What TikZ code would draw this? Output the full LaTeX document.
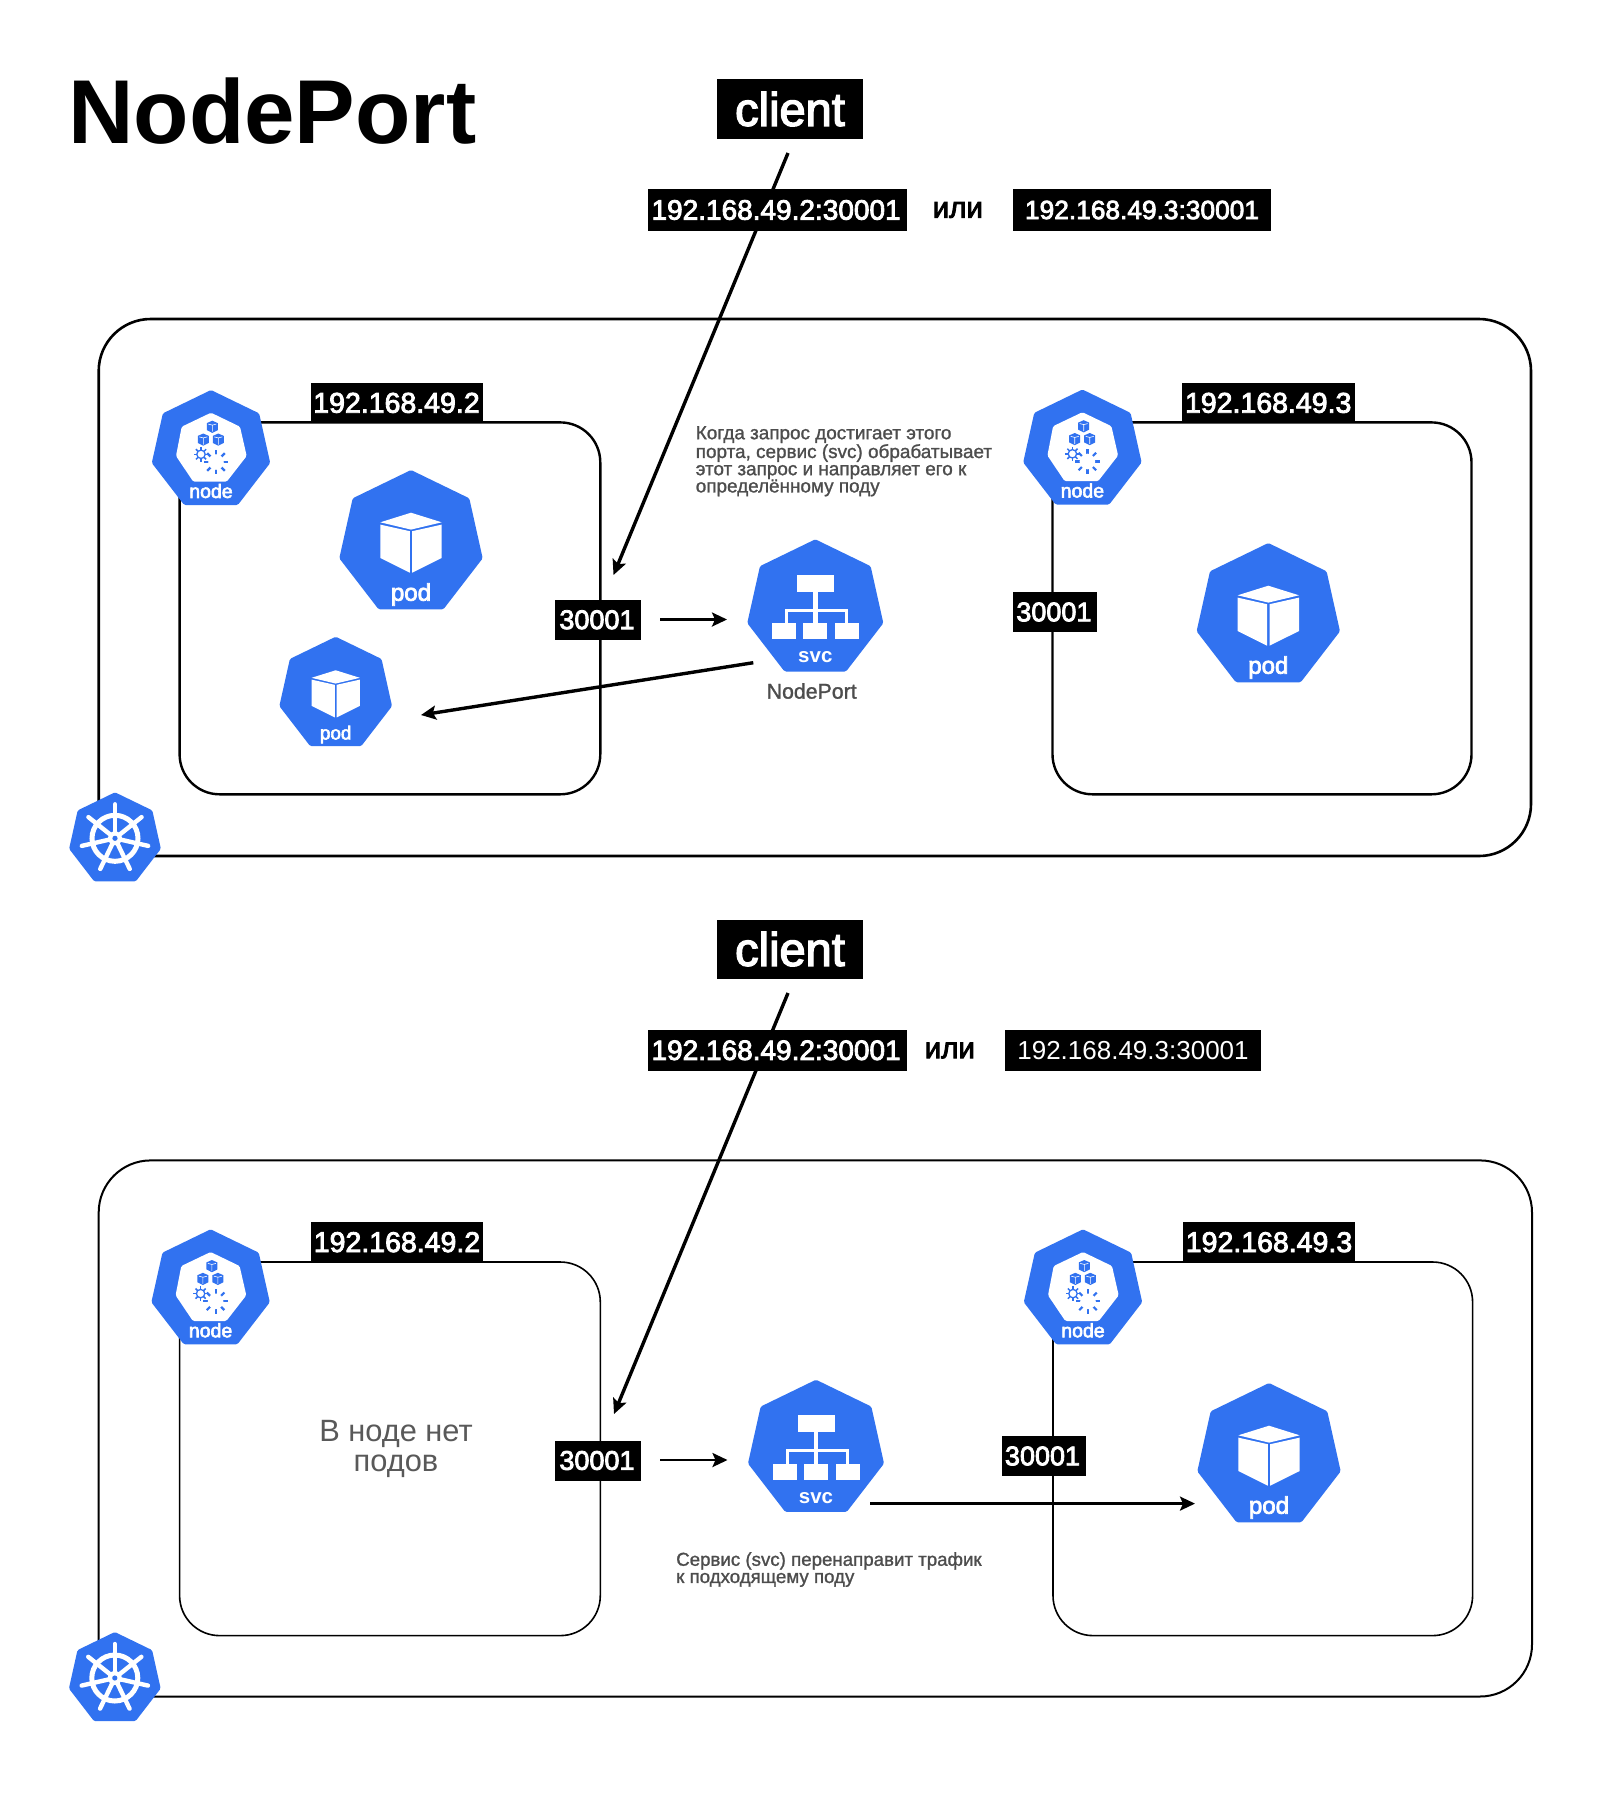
\documentclass[tikz,border=0pt]{standalone}
\usepackage{fontspec}
\setmainfont{Liberation Sans}
\newfontfamily\medf[FakeBold=3]{Liberation Sans}
\newfontfamily\notef[FakeBold=1.2]{Liberation Sans}
\usetikzlibrary{arrows.meta}
\definecolor{kblue}{HTML}{3172F0}
\definecolor{noteg}{HTML}{4D4D4D}
\newcommand{\fs}[1]{\fontsize{#1}{#1}\selectfont}
\tikzset{
  blacktag/.style={fill=black,text=white,inner sep=0pt,anchor=center},
  frame/.style={draw=black,line width=2.6pt,rounded corners=52pt},
  inner frame/.style={draw=black,line width=2.4pt,rounded corners=40pt},
  flow/.style={draw=black,line width=3.4pt,-{Stealth[length=15pt,width=14pt,inset=3pt]}},
  note/.style={text=noteg,align=left,inner sep=0pt,anchor=north west},
  iconlabel/.style={text=white,inner sep=0pt,anchor=center}
}
\newcommand{\heptpath}{(0,0) -- (58.3,28.3) -- (71.7,88.3) -- (32.4,139.3) -- (-32.4,139.3) -- (-71.7,88.3) -- (-58.3,28.3) -- cycle}
% pod: name, cx, top, scale
\newcommand{\kpod}[4]{%
 \begin{scope}[shift={(#2,#3)},scale=#4,transform shape]
  \fill[kblue,rounded corners=1.5pt] \heptpath;
  \fill[white] (0,42.7) -- (30.7,52.3) -- (0,59.6) -- (-30.7,52.3) -- cycle;
  \fill[white] (-30.7,54.6) -- (-1.2,61.2) -- (-1.2,102.7) -- (-30.7,88) -- cycle;
  \fill[white] (1.2,61.2) -- (30.7,54.6) -- (30.7,88) -- (1.2,102.7) -- cycle;
  \node[iconlabel,font=\medf\fs{24}] (#1) at (0,124.5) {pod};
 \end{scope}}
\newcommand{\kcube}[2]{%
  \fill[kblue] (#1,#2-6) -- (#1+5.5,#2-3.6) -- (#1+5.5,#2+3.4) -- (#1,#2+6.2) -- (#1-5.5,#2+3.4) -- (#1-5.5,#2-3.6) -- cycle;
  \draw[white,line width=.6pt] (#1-4,#2-2.6) -- (#1,#2-1.6) -- (#1+4,#2-2.6) (#1,#2-1.6) -- (#1,#2+5);}
% node icon: name, cx, top
\newcommand{\knode}[3]{%
 \begin{scope}[shift={(#2,#3)}]
  \begin{scope}[scale=.826]
   \fill[kblue,rounded corners=1.5pt] \heptpath;
  \end{scope}
  \fill[white,rounded corners=1.5pt] (0,22.7) -- (29,36.7) -- (35.7,66) -- (15.7,91.7) -- (-17.7,91.7) -- (-35,66) -- (-29.3,36.7) -- cycle;
  \kcube{1.3}{36.7}\kcube{-7.7}{49.5}\kcube{7.3}{49.5}
  \foreach \a in {0,45,...,315} {\draw[kblue,line width=1.5pt] (-10,64.3) ++(\a:4pt) -- ++(\a:3.2pt);}
  \draw[kblue,fill=white,line width=1.3pt] (-10,64.3) circle (4.2pt);
  \foreach \a in {0,45,...,315} {\draw[kblue,line width=2.2pt] (5,72) ++(\a:7pt) -- ++(\a:5.4pt);}
  \fill[white] (5,72) circle (7.8pt);
  \node[iconlabel,font=\medf\fs{19.5}] (#1) at (0,101) {node};
 \end{scope}}
% svc icon: name, cx, top
\newcommand{\ksvc}[3]{%
 \begin{scope}[shift={(#2,#3)}]
  \begin{scope}[scale=.949]
   \fill[kblue,rounded corners=1.5pt] \heptpath;
  \end{scope}
  \fill[white] (-18.3,35.7) rectangle (18.7,52.3);
  \fill[white] (-2.2,52) rectangle (2.4,84);
  \fill[white] (-30.3,69.2) rectangle (33,72.6);
  \fill[white] (-30.3,69.2) rectangle (-27.4,84);
  \fill[white] (30,69.2) rectangle (33,84);
  \fill[white] (-43.3,84) rectangle (-19.3,100);
  \fill[white] (-12,84) rectangle (12,100);
  \fill[white] (19.7,84) rectangle (43.7,100);
  \node[iconlabel,font=\bfseries\fs{20.5}] (#1) at (0,118) {svc};
 \end{scope}}
% wheel: name, cx, top
\newcommand{\kwheel}[3]{%
 \begin{scope}[shift={(#2,#3)}]
  \begin{scope}[scale=.64]
   \fill[kblue,rounded corners=1.5pt] \heptpath;
  \end{scope}
  \coordinate (#1) at (0,46);
  \draw[white,line width=5pt] (#1) circle (23pt);
  \foreach \k in {0,...,6} {
    \draw[white,line width=4.4pt,line cap=round] (#1) -- ++({90+\k*360/7}:34pt);
  }
  \fill[white] (#1) circle (7pt);
  \fill[kblue] (#1) circle (2.6pt);
 \end{scope}}
\begin{document}
\begin{tikzpicture}[x=1pt,y=-1pt]
\useasboundingbox (0,0) rectangle (1600,1800);
\fill[white] (0,0) rectangle (1600,1800);

\node[anchor=base west,inner sep=0pt,font=\bfseries\fs{90.7}] (title) at (68,143) {NodePort};

% ---------- upper panel ----------
\draw[frame] (98.7,319) rectangle (1531,856);
\draw[inner frame] (179.6,422.4) rectangle (600.3,794.3);
\draw[inner frame] (1052.5,422.4) rectangle (1471.5,794.3);

\coordinate (a1s) at (788,153);
\coordinate (a1e) at (613.5,575);
\draw[flow] (a1s) -- (a1e);
\coordinate (a2s) at (660,619.5);
\coordinate (a2e) at (727,619.5);
\draw[flow,line width=2.6pt] (a2s) -- (a2e);
\coordinate (a3s) at (753.3,662.7);
\coordinate (a3e) at (421,715);
\draw[flow] (a3s) -- (a3e);

\node[blacktag,minimum width=146pt,minimum height=60pt,font=\medf\fs{47}] (client1) at (790,109) {client};
\node[blacktag,minimum width=259pt,minimum height=41.5pt,font=\medf\fs{28}] (ip1a) at (777.6,210) {\hspace{-3pt}192.168.49.2:30001};
\node[inner sep=0pt,font=\medf\fs{29.5}] (or1) at (957.8,210) {или};
\node[blacktag,minimum width=258pt,minimum height=41.5pt,font=\medf\fs{26.3}] (ip1b) at (1142,210) {192.168.49.3:30001};
\node[blacktag,minimum width=172pt,minimum height=39pt,font=\medf\fs{28.5}] (tag1a) at (396.5,402.9) {\raisebox{.2pt}{192.168.49.2}};
\node[blacktag,minimum width=173pt,minimum height=39pt,font=\medf\fs{28.5}] (tag1b) at (1268.2,402.9) {\raisebox{.2pt}{192.168.49.3}};
\node[blacktag,minimum width=86pt,minimum height=40.3pt,font=\medf\fs{27}] (port1a) at (597.7,619.8) {\hspace{-1.5pt}\raisebox{-.8pt}{30001}};
\node[blacktag,minimum width=84pt,minimum height=39.3pt,font=\medf\fs{27}] (port1b) at (1055.4,612) {\hspace{-3pt}\raisebox{-.8pt}{30001}};

\node[note,font=\notef\fontsize{18.9}{17.2}\selectfont] (note1) at (695.6,426) {Когда запрос достигает этого\\порта, сервис (svc) обрабатывает\\этот запрос и направляет его к\\определённому поду};
\node[inner sep=0pt,text=noteg,font=\notef\fs{21.3}] (np1) at (811.7,691) {NodePort};

\knode{node1a}{211}{390}
\knode{node1b}{1082.4}{389.5}
\kpod{pod1a}{411}{470}{1}
\kpod{pod1b}{335.7}{636.7}{.786}
\kpod{pod1c}{1268.3}{543}{1}
\ksvc{svc1}{815.3}{539.3}
\kwheel{wheel1}{115}{792.3}

% ---------- lower panel ----------
\draw[frame,line width=2pt] (98.7,1160.4) rectangle (1532,1696.5);
\draw[inner frame,line width=1.6pt] (179.6,1262) rectangle (600.3,1635.6);
\draw[inner frame,line width=1.6pt] (1053,1262) rectangle (1472.6,1635.6);

\coordinate (b1s) at (788,993);
\coordinate (b1e) at (614,1414);
\draw[flow] (b1s) -- (b1e);
\coordinate (b2s) at (660,1460);
\coordinate (b2e) at (727.5,1460);
\draw[flow,line width=2.6pt] (b2s) -- (b2e);
\coordinate (b3s) at (870,1503.6);
\coordinate (b3e) at (1195,1503.6);
\draw[flow,line width=2.6pt] (b3s) -- (b3e);

\node[blacktag,minimum width=146pt,minimum height=59pt,font=\medf\fs{47}] (client2) at (790,949) {client};
\node[blacktag,minimum width=259pt,minimum height=41.5pt,font=\medf\fs{28}] (ip2a) at (777.6,1050.3) {\hspace{-3pt}192.168.49.2:30001};
\node[inner sep=0pt,font=\medf\fs{29.5}] (or2) at (949.8,1050.5) {или};
\node[blacktag,minimum width=255.5pt,minimum height=41.5pt,font=\fs{26}] (ip2b) at (1133,1050.3) {192.168.49.3:30001};
\node[blacktag,minimum width=172pt,minimum height=39.6pt,font=\medf\fs{28.5}] (tag2a) at (397,1242.2) {\raisebox{.2pt}{192.168.49.2}};
\node[blacktag,minimum width=172.5pt,minimum height=39.6pt,font=\medf\fs{28.5}] (tag2b) at (1269,1242.2) {\raisebox{.2pt}{192.168.49.3}};
\node[blacktag,minimum width=86pt,minimum height=40pt,font=\medf\fs{27}] (port2a) at (597.7,1460.5) {\hspace{-1.5pt}\raisebox{-.8pt}{30001}};
\node[blacktag,minimum width=84pt,minimum height=40pt,font=\medf\fs{27}] (port2b) at (1044,1456) {\hspace{-3pt}\raisebox{-.8pt}{30001}};

\node[inner sep=0pt,align=center,text=black!65,font=\fontsize{30.8}{30}\selectfont] (nopods) at (396,1449) {В ноде нет\\подов};
\node[note,font=\notef\fontsize{18.7}{17.2}\selectfont] (note2) at (676,1552) {Сервис (svc) перенаправит трафик\\к подходящему поду};

\knode{node2a}{210.6}{1229.3}
\knode{node2b}{1083}{1229.3}
\kpod{pod2}{1269}{1383}{1}
\ksvc{svc2}{816}{1379.7}
\kwheel{wheel2}{114.8}{1632}
\end{tikzpicture}
\end{document}
